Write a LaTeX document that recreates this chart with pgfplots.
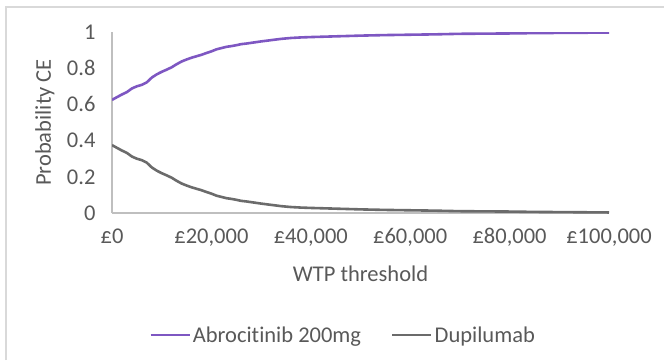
\documentclass[border=0pt]{standalone}
\usepackage{pgfplots}
\pgfplotsset{compat=1.18}
\usepackage{fontspec}
\setmainfont{Carlito}[Ligatures={NoCommon}]

\definecolor{abro}{RGB}{126,87,194}
\definecolor{dupi}{RGB}{107,107,107}
\definecolor{axgray}{RGB}{191,191,191}
\definecolor{txt}{RGB}{89,89,89}
\definecolor{frame}{RGB}{217,217,217}

\begin{document}
\begin{tikzpicture}[x=1pt,y=1pt]
  \useasboundingbox (0,0) rectangle (664,360);
  \draw[frame, line width=1.5pt] (6,0) -- (6,353) -- (664,353);
  \begin{axis}[
      at={(112pt,147pt)}, anchor=south west,
      scale only axis, width=497pt, height=181pt,
      xmin=0, xmax=100000, ymin=0, ymax=1,
      axis x line*=bottom, axis y line*=left,
      axis line style={axgray, line width=1.3pt, -},
      xtick={0,20000,40000,60000,80000,100000},
      xticklabels={{£0},{£20,000},{£40,000},{£60,000},{£80,000},{£100,000}},
      scaled x ticks=false,
      ytick={0,0.2,0.4,0.6,0.8,1},
      yticklabels={0,0.2,0.4,0.6,0.8,1},
      tick style={draw=none},
      every tick label/.style={font=\fontsize{22.5}{27}\selectfont, text=txt},
      /pgf/number format/assume math mode=true,
      xticklabel style={yshift=-12pt},
      yticklabel style={xshift=-13pt},
      xlabel={WTP threshold},
      ylabel={Probability CE},
      label style={font=\fontsize{22.5}{27}\selectfont, text=txt},
      xlabel style={at={(axis description cs:0.5,-0.337)}, anchor=center},
      ylabel style={at={(axis description cs:-0.135,0.5)}, anchor=center},
      legend columns=2,
      legend style={at={(axis description cs:0.465,-0.674)}, anchor=center,
        draw=none, fill=none, font=\fontsize{22.5}{27}\selectfont, text=txt,
        /tikz/every even column/.append style={column sep=28pt}},
      legend image code/.code={\draw[#1] (0pt,0pt) -- (39pt,0pt);},
    ]
    \addplot[abro, line width=2.6pt, line join=round] coordinates {
      (0,0.625) (1000,0.640) (2000,0.655) (3000,0.668) (4000,0.688)
      (5000,0.700) (6000,0.708) (7000,0.722) (8000,0.748) (9000,0.766)
      (10000,0.780) (11000,0.792) (12000,0.805) (13000,0.822) (14000,0.837)
      (15000,0.848) (16000,0.858) (17000,0.866) (18000,0.874) (19000,0.884)
      (20000,0.893) (21000,0.904) (22000,0.911) (23000,0.918) (24000,0.922)
      (25000,0.927) (26000,0.933) (27000,0.936) (28000,0.940) (29000,0.944)
      (30000,0.948) (32000,0.955) (34000,0.962) (36000,0.967) (38000,0.970)
      (40000,0.972) (45000,0.976) (50000,0.980) (55000,0.983) (60000,0.985)
      (65000,0.987) (70000,0.990) (75000,0.991) (80000,0.992) (85000,0.994)
      (90000,0.995) (95000,0.996) (100000,0.997)
    };
    \addlegendentry{Abrocitinib 200mg}
    \addplot[dupi, line width=2.6pt, line join=round] coordinates {
      (0,0.375) (1000,0.360) (2000,0.345) (3000,0.332) (4000,0.312)
      (5000,0.300) (6000,0.292) (7000,0.278) (8000,0.252) (9000,0.234)
      (10000,0.220) (11000,0.208) (12000,0.195) (13000,0.178) (14000,0.163)
      (15000,0.152) (16000,0.142) (17000,0.134) (18000,0.126) (19000,0.116)
      (20000,0.107) (21000,0.096) (22000,0.089) (23000,0.082) (24000,0.078)
      (25000,0.073) (26000,0.067) (27000,0.064) (28000,0.060) (29000,0.056)
      (30000,0.052) (32000,0.045) (34000,0.038) (36000,0.033) (38000,0.030)
      (40000,0.028) (45000,0.024) (50000,0.020) (55000,0.017) (60000,0.015)
      (65000,0.013) (70000,0.010) (75000,0.009) (80000,0.008) (85000,0.006)
      (90000,0.005) (95000,0.004) (100000,0.003)
    };
    \addlegendentry{Dupilumab}
  \end{axis}
\end{tikzpicture}
\end{document}
